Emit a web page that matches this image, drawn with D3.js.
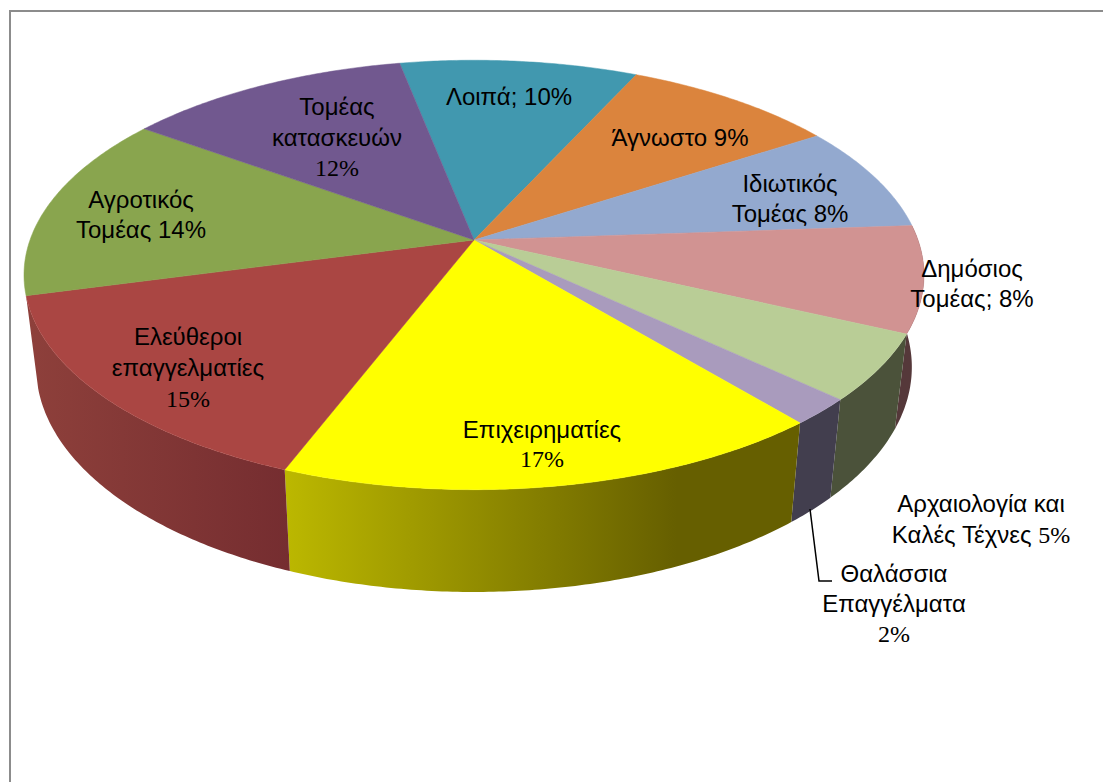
<!DOCTYPE html>
<html>
<head>
<meta charset="utf-8">
<script src="https://cdn.jsdelivr.net/npm/d3@7"></script>
<style>
    body { margin: 0; background: #fff; }
    svg { display: block; }
    text { font-family: "Liberation Sans", Arial, sans-serif; font-size: 24px; fill: #000; text-anchor: middle; }
    .pct { font-family: "Liberation Serif", "Times New Roman", serif; }
</style>
</head>
<body>
<svg width="1103" height="782"></svg>
<script>
// slice values in drawing order, clockwise from the Λοιπά slice
const names = ["Λοιπά", "Άγνωστο", "Ιδιωτικός Τομέας", "Δημόσιος Τομέας", "Αρχαιολογία και Καλές Τέχνες",
    "Θαλάσσια Επαγγέλματα", "Επιχειρηματίες", "Ελεύθεροι επαγγελματίες", "Αγροτικός Τομέας", "Τομέας κατασκευών"];
const values = [10, 9, 8, 8, 5, 2, 17, 15, 14, 12];
const colors = ["#4198af", "#db843d", "#93a9cf", "#d19392", "#b9cd96", "#a99bbd", "#ffff00", "#aa4643", "#89a54e", "#71588f"];
// only the front slices show a wall: [left colour, right colour]
const wallColors = [null, null, null, ["#55383a", "#55383a"], ["#4b523a", "#4b523a"], ["#423e4e", "#423e4e"],
    ["#bcb800", "#665f00"], ["#8e403b", "#752d30"], null, null];
const labelLines = [
    ["Λοιπά; 10%"],
    ["Άγνωστο 9%"],
    ["Ιδιωτικός", "Τομέας 8%"],
    ["Δημόσιος", "Τομέας; 8%"],
    ["Αρχαιολογία και", "Καλές Τέχνες 5%"],
    ["Θαλάσσια", "Επαγγέλματα", "2%"],
    ["Επιχειρηματίες", "17%"],
    ["Ελεύθεροι", "επαγγελματίες", "15%"],
    ["Αγροτικός", "Τομέας  14%"],
    ["Τομέας", "κατασκευών", "12%"]
];
const serifPercent = [false, false, false, false, true, true, true, true, false, true];

// where each label block sits: centre x, first baseline, line step
const labelPos = [
    [509, 105, 30], [680, 146, 30], [790, 192, 30], [972, 277, 30], [981, 512, 31],
    [894, 582, 30], [542, 438, 29], [188, 345, 31], [141, 208, 30], [337, 115, 30.5]
];

const svg = d3.select("svg");
const k = 0.1628;                      // perspective of the tilted disc
const top3d = {cx: 474, cy: 240, a: 444, b: 209};
const bottom3d = {cx: 474, cy: 330.4, a: 432, b: 219};

function rim(disc, angle) {
    const u = Math.sin(angle), v = -Math.cos(angle), w = 1 - k * v;
    return [disc.cx + disc.a * u / w, disc.cy + disc.b * v / w];
}
function sweep(a0, a1) {
    const s = d3.range(a0, a1, 0.01);
    s.push(a1);
    return s;
}
const line = d3.line();

const startAngle = -11.2 * Math.PI / 180;
const arcs = d3.pie().sort(null).startAngle(startAngle).endAngle(startAngle + 2 * Math.PI)(values);

// frame, open on the right and at the bottom
svg.append("path")
    .attr("d", "M10,782V11H1103")
    .attr("fill", "none")
    .attr("stroke", "#8c8c8c")
    .attr("stroke-width", 2);

const defs = svg.append("defs");

// walls first, the top face covers whatever part of them is at the back
arcs.forEach(function(d, i) {
    if (!wallColors[i]) return;
    const s = sweep(d.startAngle, d.endAngle);
    const front = s.map(a => rim(top3d, a));
    const back = s.slice().reverse().map(a => rim(bottom3d, a));
    const xs = d3.extent(front.concat(back), p => p[0]);
    const grad = defs.append("linearGradient")
        .attr("id", "wall" + i)
        .attr("gradientUnits", "userSpaceOnUse")
        .attr("x1", xs[0]).attr("x2", xs[1])
        .attr("y1", 0).attr("y2", 0);
    // the yellow wall stays flat over its last quarter
    grad.append("stop").attr("offset", 0).attr("stop-color", wallColors[i][1 - (i == 7 ? 1 : 1)]);
    grad.append("stop").attr("offset", i == 6 ? 0.76 : 1).attr("stop-color", wallColors[i][1]);
    svg.append("path")
        .attr("d", line(front.concat(back)) + "Z")
        .attr("fill", "url(#wall" + i + ")");
});

svg.selectAll(".slice")
    .data(arcs)
    .enter()
    .append("path")
    .attr("class", "slice")
    .attr("d", d => line([[top3d.cx, top3d.cy]].concat(sweep(d.startAngle, d.endAngle).map(a => rim(top3d, a)))) + "Z")
    .attr("fill", (d, i) => colors[i])
    .attr("stroke", (d, i) => colors[i])
    .attr("stroke-width", 0.5);

// leader of the Θαλάσσια label
svg.append("path")
    .attr("d", "M810,509L819,581H832")
    .attr("fill", "none")
    .attr("stroke", "#000")
    .attr("stroke-width", 1.5);

labelLines.forEach(function(lines, i) {
    const pos = labelPos[i];
    lines.forEach(function(l, j) {
        const t = svg.append("text")
            .attr("x", pos[0])
            .attr("y", pos[1] + j * pos[2]);
        const m = l.match(/^(.*?)(\d+%)$/);
        if (serifPercent[i] && m) {
            if (m[1]) t.append("tspan").attr("xml:space", "preserve").text(m[1]);
            t.append("tspan").attr("class", "pct").text(m[2]);
        } else {
            t.text(l);
        }
    });
});
</script>
</body>
</html>
